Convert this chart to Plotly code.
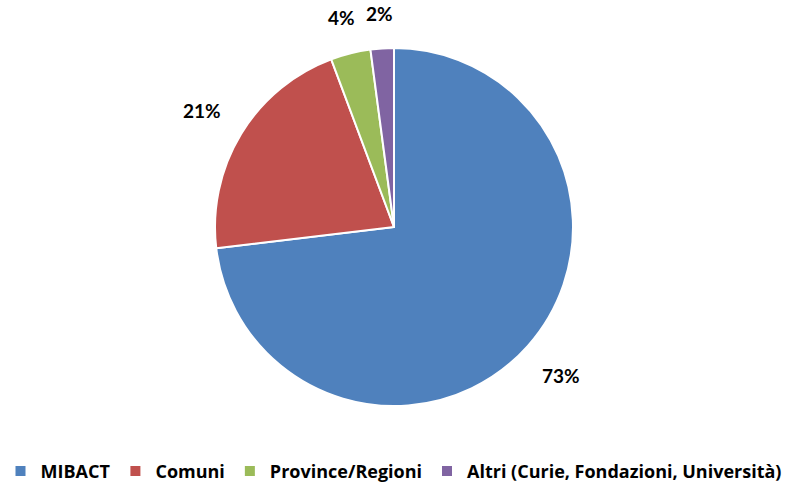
import math
import plotly.graph_objects as go

categories = ["MIBACT", "Comuni", "Province/Regioni", "Altri (Curie, Fondazioni, Università)"]
values = [73.1, 21.2, 3.6, 2.1]
colors = ["#4F81BD", "#C0504D", "#9BBB59", "#8064A2"]

W, H = 787, 484
cx, cy, r = 394, 227, 179  # pie centre / radius in pixels

LABEL_FONT = "Lato, Carlito, Arial"
LEGEND_FONT = "Open Sans, Carlito, Arial"

fig = go.Figure(go.Pie(
    labels=categories,
    values=values,
    sort=False,
    direction="clockwise",
    rotation=0,
    marker=dict(colors=colors, line=dict(color="white", width=2)),
    textinfo="none",
    hoverinfo="label+percent",
    domain=dict(x=[(cx - r) / W, (cx + r) / W], y=[(H - cy - r) / H, (H - cy + r) / H]),
))

# percentage labels placed outside the slices along each mid-angle
total = sum(values)
cum = 0.0
annotations = []
fs = 19
for v in values:
    mid = (cum + v / 2) / total * 2 * math.pi
    cum += v
    txt = f"{round(v / total * 100)}%"
    hw = 0.33 * 18 * len(txt)
    hh = 8
    sx, sy = math.sin(mid), -math.cos(mid)
    d = r + 26 + hw * abs(sx) + hh * abs(sy)
    px = cx + d * sx
    py = cy + d * sy
    annotations.append(dict(
        x=px / W, y=1 - py / H, xref="paper", yref="paper",
        text=f"<b>{txt}</b>", showarrow=False,
        font=dict(family=LABEL_FONT, size=fs, color="#000000"),
        xanchor="center", yanchor="middle",
    ))

fig.update_layout(
    width=W, height=H,
    margin=dict(l=0, r=0, t=0, b=0, autoexpand=False),
    paper_bgcolor="white",
    plot_bgcolor="white",
    annotations=annotations,
    showlegend=True,
    legend=dict(
        orientation="h", x=0.5, xanchor="center", y=-0.012, yanchor="bottom",
        font=dict(family=LEGEND_FONT, size=18, color="#000000", weight="bold"),
        itemwidth=30, traceorder="normal",
    ),
)

fig.write_html("out.html", config={"displayModeBar": False},
               post_script="document.body.style.margin='0';")
